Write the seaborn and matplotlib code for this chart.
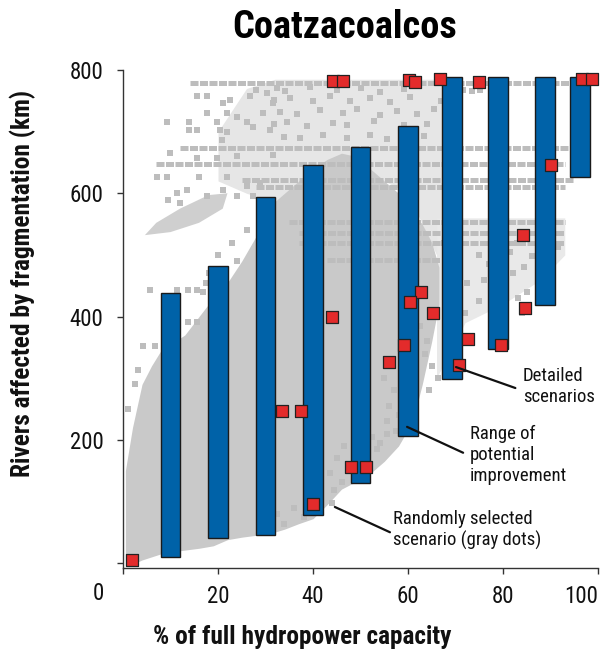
import matplotlib
matplotlib.use("Agg")
import matplotlib.pyplot as plt
import pandas as pd
import seaborn as sns
from matplotlib import font_manager

# Blue range bars (x = % of full hydropower capacity)
bar_x = [10, 20, 30, 40, 50, 60, 69.3, 78.9, 88.8, 96.2]
bar_low = [10, 41, 45, 78, 130, 206, 299, 347, 419, 627]
bar_high = [438, 482, 594, 646, 675, 709, 788, 788, 788, 788]

# Red detailed scenarios
red_x = [1.9, 44.2, 46.3, 60.2, 61.5, 66.7, 75.0, 96.6, 98.7, 90.1, 84.2, 84.6, 72.6,
         79.6, 70.7, 44.0, 62.7, 60.4, 65.3, 59.2, 56.0, 33.5, 37.5, 40.0, 48.0, 51.2]
red_y = [5, 782, 782, 784, 780, 786, 781, 786, 786, 646, 532, 414, 364,
         354, 321, 399, 440, 424, 406, 354, 326, 247, 247, 96, 156, 156]

# Dense part of the random-scenario cloud (lower / upper envelope)
dense_x = [0.5, 2, 4, 6, 8, 10, 13, 16, 19, 22, 25, 28, 31, 34, 37, 40, 43, 46, 49,
           52, 55, 58, 61, 63, 65, 66.5]
dense_lo = [-4, -2, 5, 10, 15, 18, 21, 24, 28, 38, 42, 45, 48, 55, 64, 72, 95, 120, 132,
            145, 165, 190, 230, 290, 360, 420]
dense_hi = [150, 220, 290, 320, 345, 355, 370, 400, 430, 455, 490, 530, 580, 600, 620,
            640, 655, 665, 660, 640, 620, 600, 570, 550, 520, 480]

# thinner parts of the cloud (upper band and right band)
upper_x = [20, 26, 32, 40, 50, 60, 66, 70]
upper_lo = [620, 600, 585, 620, 640, 600, 500, 420]
upper_hi = [700, 770, 785, 785, 785, 785, 785, 785]
right_x = [66, 72, 80, 88, 93]
right_lo = [300, 390, 420, 460, 500]
right_hi = [560, 560, 560, 560, 560]

# small blob of dots upper left
blob_x = [4.6, 10, 16, 21, 22, 18, 12, 7]
blob_y = [532, 537, 552, 575, 600, 597, 575, 552]

# horizontal rows of gray dots: level, start, end
streak_y = [779, 674, 648, 622, 610, 554, 536, 519, 492]
streak_x0 = [14, 12, 7, 25, 28, 35, 37, 37, 43]
streak_x1 = [98, 94, 93, 95, 93, 93, 93, 93, 67]

# scattered gray dots outside the dense cloud
gray_x = [15.5, 17.6, 21.1, 22.5, 26.7, 28.1, 30.3, 31.6, 17.6, 21.8, 29.5, 23.9, 9.2, 13.8,
          19.7, 26.0, 27.4, 13.8, 15.5, 20.4, 21.8, 20.8, 30.9, 9.9, 15.5, 19.7, 23.9, 31.6,
          7.1, 9.2, 15.9, 21.8, 13.4, 11.3, 21.1, 9.5, 12.0, 17.6, 23.9, 26.0, 28.8, 27.4, 30.3,
          32.4, 34.2, 39.4, 45.0, 50.0, 54.2, 59.1,
          31.7, 35.2, 40.1, 43.6, 47.8, 52.0, 56.3, 60.5,
          33.1, 36.6, 41.5, 46.4, 49.2, 54.2, 57.7, 61.9, 65.4,
          31.7, 34.5, 38.7, 44.3, 47.1, 52.8, 59.1, 64.0,
          33.8, 37.3, 42.2, 47.1, 52.0, 55.6, 63.3,
          67.0, 71.6, 73.4, 75.1,
          5.7, 11.3, 13.7, 15.5, 16.9, 13.7, 15.5, 4.3, 6.8, 3.2, 2.5, 1.0,
          18.0, 20.0, 23.0, 26.0, 17.5, 24.0,
          67.5, 69.0, 71.0, 68.0, 72.5, 70.5, 68.5, 72.0, 81.5, 83.0, 84.5, 82.0, 85.0, 83.2,
          84.0, 90.5, 91.5, 86.0, 88.0, 75.0, 77.0, 76.0, 78.0, 75.0,
          62.6, 64.0, 63.5, 65.0, 66.4, 64.5, 61.5,
          55.0, 57.0, 56.0, 58.0, 55.5, 57.5,
          44.0, 43.6, 46.0, 45.0, 46.5, 33.8, 32.5, 36.0, 38.0, 52.4, 54.0, 55.6, 53.5, 44.5]
gray_y = [757, 757, 746, 752, 757, 768, 762, 746, 730, 730, 730, 724, 715, 715,
          715, 716, 708, 703, 703, 703, 700, 687, 703, 665, 657, 657, 660, 662,
          627, 627, 627, 627, 606, 600, 606, 589, 584, 595, 595, 611, 616, 595, 578,
          770, 766, 772, 768, 771, 765, 769,
          752, 755, 749, 757, 750, 754, 748, 756,
          732, 728, 735, 730, 737, 727, 733, 729, 736,
          712, 716, 709, 714, 710, 717, 711, 713,
          692, 689, 695, 690, 694, 688, 693,
          750, 768, 766, 768,
          443, 443, 443, 443, 440, 391, 391, 352, 352, 313, 290, 250,
          470, 500, 520, 540, 455, 490,
          520, 505, 490, 470, 455, 430, 415, 405, 505, 520, 480, 470, 440, 430,
          405, 520, 512, 498, 470, 500, 485, 460, 440, 425,
          384, 360, 340, 320, 300, 281, 270,
          300, 280, 255, 240, 230, 215,
          97, 146, 132, 170, 190, 64, 80, 90, 75, 205, 195, 210, 185, 119]

x_ticks = [0, 20, 40, 60, 80, 100]
y_ticks = [0, 200, 400, 600, 800]

GRAY = "#bdbdbd"
BLUE = "#0062a8"
RED = "#e32b2b"

sns.set_theme(style="white")

# pick a narrow face if one is installed, otherwise shrink a normal one
installed = {f.name for f in font_manager.fontManager.ttflist}
narrow = [n for n in ["Liberation Sans Narrow", "DejaVu Sans Condensed", "Roboto Condensed",
                      "Open Sans Condensed"] if n in installed]
if narrow:
    plt.rcParams["font.family"] = [narrow[0], "DejaVu Sans"]
    k = 1.0
else:
    plt.rcParams["font.family"] = ["Roboto", "Liberation Sans", "DejaVu Sans"]
    k = 0.86

fig = plt.figure(figsize=(6, 6.54), dpi=100)
ax = fig.add_axes([0.205, 0.1315, 0.7917, 0.7615])

# gray cloud
ax.fill_between(upper_x, upper_lo, upper_hi, color="#e6e6e6", lw=0, zorder=0.5)
ax.fill_between(right_x, right_lo, right_hi, color="#e9e9e9", lw=0, zorder=0.5)
ax.fill_between(dense_x, dense_lo, dense_hi, color="#c9c9c9", lw=0, zorder=1)
ax.fill(blob_x, blob_y, color="#cfcfcf", lw=0, zorder=1)
ax.hlines(streak_y, streak_x0, streak_x1, color=GRAY, lw=3.6,
          linestyles=(0, (1.6, 0.3)), zorder=1)
gray_df = pd.DataFrame({"x": gray_x, "y": gray_y})
sns.scatterplot(data=gray_df, x="x", y="y", ax=ax, marker="s", s=14, color=GRAY,
                linewidth=0, zorder=1, legend=False)

# range bars
heights = [h - l for h, l in zip(bar_high, bar_low)]
ax.bar(bar_x, heights, bottom=bar_low, width=4.2, color=BLUE, edgecolor="#1a1a1a",
       linewidth=1, zorder=2)

# detailed scenarios
red_df = pd.DataFrame({"x": red_x, "y": red_y})
sns.scatterplot(data=red_df, x="x", y="y", ax=ax, marker="s", s=64, color=RED,
                edgecolor="#222222", linewidth=0.9, zorder=3, legend=False, clip_on=False)

ax.set_xlim(0, 100)
ax.set_ylim(-8, 800)
ax.set_xticks(x_ticks)
ax.set_xticklabels([""] + [str(t) for t in x_ticks[1:]])
ax.set_yticks(y_ticks)
ax.set_yticklabels([""] + [str(t) for t in y_ticks[1:]])
ax.tick_params(axis="both", direction="out", length=4, width=1, color="#333333",
               labelsize=16.5 * k, labelcolor="#111111", bottom=True, left=True)
ax.tick_params(axis="x", pad=8)
ax.tick_params(axis="y", pad=10)
ax.get_xticklabels()[-1].set_horizontalalignment("right")
for side in ["top", "right"]:
    ax.spines[side].set_visible(False)
for side in ["left", "bottom"]:
    ax.spines[side].set_color("#333333")
    ax.spines[side].set_linewidth(1)
ax.set_xlabel("")
ax.set_ylabel("")

fig.text(98 / 600, 1 - 593 / 654, "0", ha="center", va="center", fontsize=16.5 * k,
         color="#111111")

# annotations
notes = [
    ("Detailed\nscenarios", (70.1, 318), (82.6, 284), (84.2, 287)),
    ("Range of\npotential\nimprovement", (59.8, 221), (71.6, 179), (73.1, 175)),
    ("Randomly selected\nscenario (gray dots)", (44.6, 91), (56.2, 50), (56.8, 54)),
]
for label, p0, p1, tpos in notes:
    ax.annotate("", xy=p0, xytext=p1, arrowprops=dict(arrowstyle="-", lw=1.6, color="#111111",
                                                      shrinkA=0, shrinkB=0), zorder=4)
    ax.text(tpos[0], tpos[1], label, ha="left", va="center", fontsize=13.5 * k,
            color="#111111", linespacing=1.2, zorder=4)

fig.text(0.575, 1 - 27 / 654, "Coatzacoalcos", ha="center", va="center",
         fontsize=27.5 * k, fontweight="bold", color="#000000")
fig.text(0.503, 1 - 637 / 654, "% of full hydropower capacity", ha="center", va="center",
         fontsize=18.3 * k, fontweight="bold", color="#111111")
fig.text(23 / 600, 1 - 283 / 654, "Rivers affected by fragmentation (km)", ha="center",
         va="center", rotation=90, fontsize=18.3 * k, fontweight="bold", color="#111111")

fig.savefig("out.png", dpi=100)
